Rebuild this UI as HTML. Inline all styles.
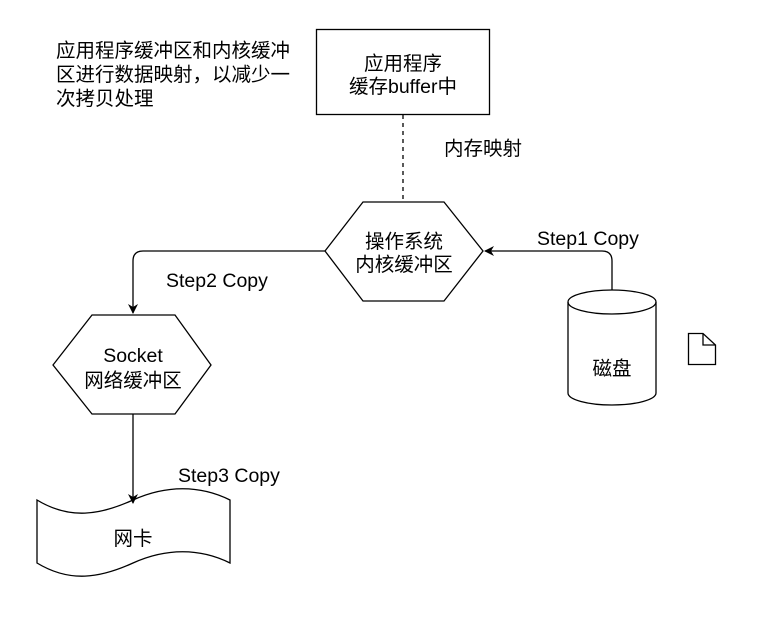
<!DOCTYPE html>
<html><head><meta charset="utf-8"><style>
html,body{margin:0;padding:0;background:#fff}
svg text{font-family:"Liberation Sans","Noto Sans CJK SC",sans-serif;font-size:19.5px;fill:#000}
</style></head><body>
<svg width="777" height="614" viewBox="0 0 777 614" xmlns="http://www.w3.org/2000/svg">
<defs><marker id="a" markerWidth="10" markerHeight="10" refX="9" refY="5" orient="auto" markerUnits="userSpaceOnUse"><path d="M0,0 L10,5 L0,10 L3,5 Z" fill="#000"/></marker></defs>
<g fill="#fff" stroke="#000" stroke-width="1.3">
<rect x="316.5" y="29.5" width="173" height="85"/>
<polygon points="325,251 363,202 444,202 483,251 444,301 363,301"/>
<polygon points="53,365 92,315 175,315 211,365 175,414 92,414"/>
<path d="M568,302 A44,12 0 0 1 656,302 L656,393 A44,12 0 0 1 568,393 Z"/>
<path d="M568,302 A44,12 0 0 0 656,302" fill="none"/>
<path d="M37,500 C70,520 100,515 133,500 C166,485 200,485 230,500 L230,563 C200,548 166,548 133,563 C100,578 70,583 37,563 Z"/>
<path d="M688.5,333.5 L703,333.5 L715.5,345 L715.5,364.5 L688.5,364.5 Z M703,333.5 L703,345 L715.5,345" fill="#fff"/>
</g>
<g fill="none" stroke="#000" stroke-width="1.3">
<line x1="403" y1="115" x2="403" y2="202" stroke-dasharray="4,4"/>
<path d="M612,290 L612,261 Q612,251 602,251 L485,251" marker-end="url(#a)"/>
<path d="M325,251 L143,251 Q133,251 133,261 L133,313" marker-end="url(#a)"/>
<path d="M133,414 L133,503" marker-end="url(#a)"/>
</g>
<text x="56" y="57">应用程序缓冲区和内核缓冲</text>
<text x="56" y="81">区进行数据映射，以减少一</text>
<text x="56" y="105">次拷贝处理</text>
<text x="403" y="70" text-anchor="middle">应用程序</text>
<text x="403" y="93" text-anchor="middle">缓存buffer中</text>
<text x="444" y="155">内存映射</text>
<text x="404" y="248" text-anchor="middle">操作系统</text>
<text x="404" y="271" text-anchor="middle">内核缓冲区</text>
<text x="537" y="245">Step1 Copy</text>
<text x="166" y="287">Step2 Copy</text>
<text x="133" y="362" text-anchor="middle">Socket</text>
<text x="133" y="387" text-anchor="middle">网络缓冲区</text>
<text x="612" y="375" text-anchor="middle">磁盘</text>
<text x="178" y="482">Step3 Copy</text>
<text x="133" y="545" text-anchor="middle">网卡</text>
</svg>
</body></html>
